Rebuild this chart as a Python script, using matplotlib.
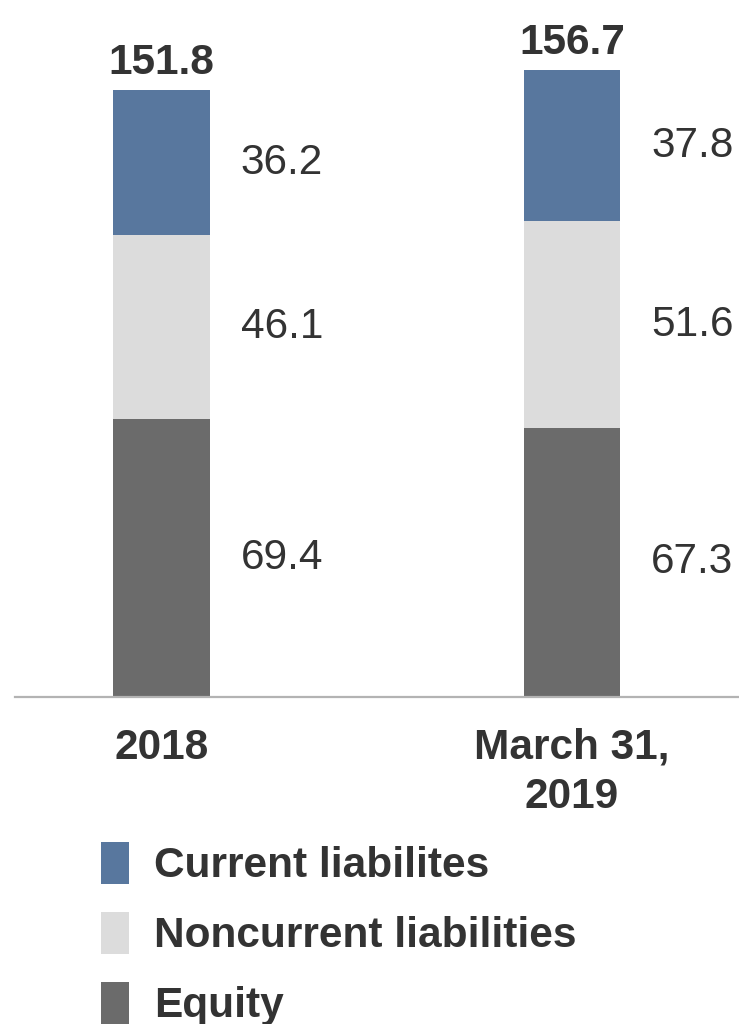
import matplotlib.pyplot as plt

plt.rcParams['font.family'] = ['Liberation Sans', 'DejaVu Sans']

categories = ['2018', 'March 31,\n2019']
equity = [69.4, 67.3]
noncurrent = [46.1, 51.6]
current = [36.2, 37.8]
totals = [151.8, 156.7]

c_current = '#58779e'
c_noncurrent = '#dcdcdc'
c_equity = '#6b6b6b'
txt = '#333333'

fig = plt.figure(figsize=(7.39, 10.24), dpi=100)
ax = fig.add_axes([15 / 739, 327 / 1024, 724 / 739, 697 / 1024])

x = range(len(categories))
w = 0.236
b_eq = ax.bar(x, equity, w, color=c_equity, label='Equity')
b_nc = ax.bar(x, noncurrent, w, bottom=equity, color=c_noncurrent, label='Noncurrent liabilities')
bottom2 = [e + n for e, n in zip(equity, noncurrent)]
b_cu = ax.bar(x, current, w, bottom=bottom2, color=c_current, label='Current liabilites')

# segment values to the right of each bar
for i in x:
    starts = [0, equity[i], bottom2[i]]
    for s, v in zip(starts, [equity[i], noncurrent[i], current[i]]):
        ax.text(i + 0.193, s + v / 2, f'{v:.1f}', ha='left', va='center',
                fontsize=30.5, color=txt)
    ax.annotate(f'{totals[i]:.1f}', (i, bottom2[i] + current[i]), xytext=(0, 5),
                textcoords='offset points', ha='center', va='bottom',
                fontsize=30.5, fontweight='bold', color=txt)

ax.set_xlim(-0.357, 1.407)
ax.set_ylim(0, 174.25)
ax.set_xticks(list(x))
ax.set_xticklabels(categories, fontsize=30.5, fontweight='bold', color=txt,
                   linespacing=1.32)
ax.tick_params(axis='x', length=0, pad=22)
ax.set_yticks([])
for s in ['top', 'left', 'right']:
    ax.spines[s].set_visible(False)
ax.spines['bottom'].set_color('#b3b3b3')
ax.spines['bottom'].set_linewidth(1.6)

leg = fig.legend(handles=[b_cu, b_nc, b_eq], loc='upper left',
                 bbox_to_anchor=(101 / 739, 1 - 842 / 1024), frameon=False,
                 borderpad=0, borderaxespad=0, handlelength=0.65, handleheight=1.15,
                 handletextpad=0.6, labelspacing=0.6,
                 prop={'size': 30.5, 'weight': 'bold'})
for t in leg.get_texts():
    t.set_color(txt)

fig.savefig('out.png', dpi=100)
